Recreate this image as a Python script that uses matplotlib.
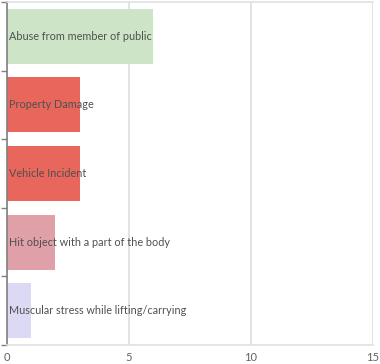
import matplotlib.pyplot as plt

plt.rcParams["font.family"] = "Lato"

categories = [
    "Abuse from member of public",
    "Property Damage",
    "Vehicle Incident",
    "Hit object with a part of the body",
    "Muscular stress while lifting/carrying",
]
values = [6, 3, 3, 2, 1]
bar_colors = ["#cde4c7", "#e8665b", "#e8665b", "#e0a0a8", "#dcd9f4"]
xticks = [0, 5, 10, 15]

W, H = 380, 364
fig = plt.figure(figsize=(W / 100, H / 100), dpi=100)
ax = fig.add_axes([6.5 / W, (H - 345) / H, (372.7 - 6.5) / W, (345 - 2) / H])

y = list(range(len(categories)))
ax.barh(y, values, height=0.8, color=bar_colors, zorder=2)
for yi, lab in zip(y, categories):
    ax.text(0.1, yi, lab, va="center", ha="left", fontsize=7.8, color="#505050", zorder=3)

ax.set_xlim(0, 15)
ax.set_ylim(len(categories) - 0.5, -0.5)
ax.set_xticks(xticks)
ax.set_xticklabels([str(t) for t in xticks], color="#606060", fontsize=8)
ax.set_yticks([i - 0.5 for i in range(len(categories) + 1)])
ax.set_yticklabels([])
ax.tick_params(axis="x", length=0, pad=5)
ax.tick_params(axis="y", length=4, width=1, color="#808080")
ax.grid(axis="x", color="#dddddd", lw=1.2, zorder=0)

ax.spines["left"].set_color("#808080")
ax.spines["left"].set_linewidth(1.2)
ax.spines["right"].set_visible(False)
for s in ["top", "bottom"]:
    ax.spines[s].set_color("#e0e0e0")
    ax.spines[s].set_linewidth(1.2)

fig.savefig("out.png", dpi=100)
